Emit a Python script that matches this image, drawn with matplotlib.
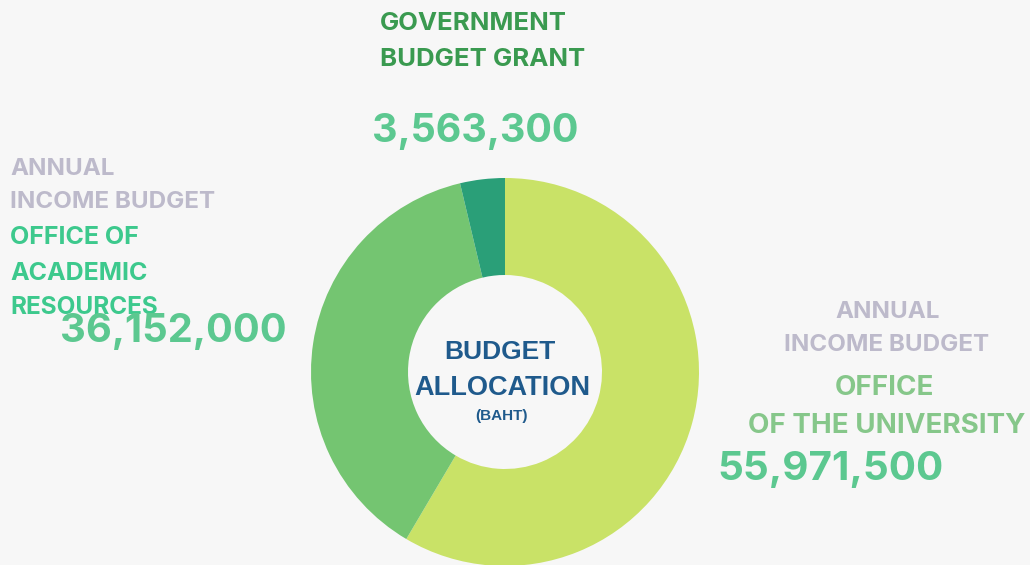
import matplotlib.pyplot as plt

# budget allocation (baht)
sources = ["Office of the University", "Office of Academic Resources", "Government Budget Grant"]
amounts = [55971500, 36152000, 3563300]
colors = ["#c9e267", "#74c571", "#2a9f78"]

W, H = 1030, 565
fig = plt.figure(figsize=(W / 100, H / 100), dpi=100)
fig.patch.set_facecolor("#f7f7f7")
ax = fig.add_axes([0, 0, 1, 1])

cx, cy, r = 505, H - 372, 194
ax.pie(amounts, colors=colors, startangle=90, counterclock=False,
       center=(cx, cy), radius=r, frame=True,
       wedgeprops=dict(width=97, linewidth=0))
ax.set_xlim(0, W)
ax.set_ylim(0, H)
ax.set_aspect("equal")
ax.axis("off")

title_font = "Inter"


def txt(x, y, s, size, color, ha="left", family=title_font):
    # y is measured from the top edge
    ax.text(x, H - y - 3, s, fontsize=size, color=color, ha=ha, va="center",
            fontweight="bold", family=family)


def money(v):
    return f"{v:,}"


# top label
txt(380, 21, "GOVERNMENT", 18.5, "#3a9a50")
txt(380, 57, "BUDGET GRANT", 18.5, "#3a9a50")
txt(372, 129, money(amounts[2]), 28.4, "#5cc890")

# left label
grey = "#bdbacb"
teal = "#3dc98d"
txt(10, 166, "ANNUAL", 17.4, grey)
txt(10, 199, "INCOME BUDGET", 17.4, grey)
txt(10, 235, "OFFICE OF", 18, teal)
txt(10, 270, "ACADEMIC", 18, teal)
txt(10, 304, "RESOURCES", 17.5, teal)
txt(60, 329, money(amounts[1]), 28.7, "#5cc890")

# right label
txt(888, 309, "ANNUAL", 17.4, grey, ha="center")
txt(887, 342, "INCOME BUDGET", 17.4, grey, ha="center")
txt(884, 385, "OFFICE", 20, "#86c78a", ha="center")
txt(887, 423, "OF THE UNIVERSITY", 20, "#86c78a", ha="center")
txt(717, 466, money(amounts[0]), 29, "#5cc890")

# hole caption
navy = "#1f5a8c"
txt(500, 349, "BUDGET", 19, navy, ha="center", family="Liberation Sans")
txt(502, 385, "ALLOCATION", 19.5, navy, ha="center", family="Liberation Sans")
txt(502, 413, "(BAHT)", 11, navy, ha="center", family="Liberation Sans")

fig.savefig("out.png", dpi=100, facecolor=fig.get_facecolor())
